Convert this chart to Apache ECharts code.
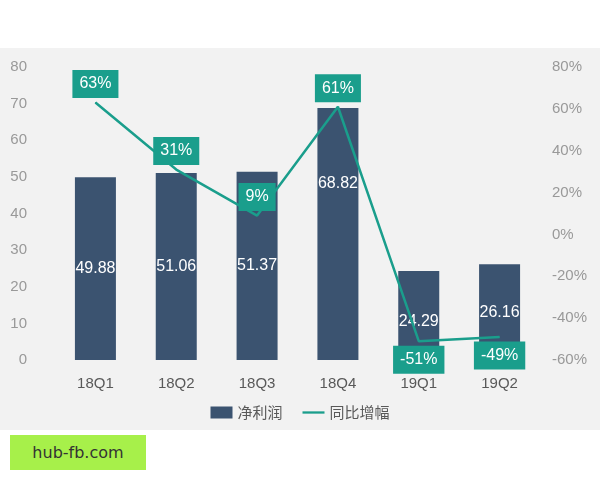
<!DOCTYPE html><html><head><meta charset="utf-8"><script src="https://cdn.jsdelivr.net/npm/echarts@6/dist/echarts.min.js"></script>
<style>body{margin:0;background:#fff}#bg{position:absolute;left:0;top:48px;width:600px;height:382px;background:#f2f2f2}#c{position:absolute;left:0;top:0;width:600px;height:480px}#w{position:absolute;left:10px;top:435px;width:136px;height:35px;background:#a7f04a;color:#333;font:16px 'DejaVu Sans',sans-serif;line-height:35px;text-align:center}</style></head><body>
<div id="bg"></div><div id="c"></div><div id="w">hub-fb.com</div>
<script>
const categories=['18Q1','18Q2','18Q3','18Q4','19Q1','19Q2'];
const profit=[49.88,51.06,51.37,68.82,24.29,26.16];
const growth=[63,31,9,61,-51,-49];
const leftTicks=[0,80,10];
const rightTicks=[-60,80,20];
const barLabelOffsetY=[0,0,0,-50,6,0];
const growthLabelBelow=[false,false,false,false,true,true];
const chart=echarts.init(document.getElementById('c'));
chart.setOption({
 animation:false,
 grid:{left:55,right:60,top:67,bottom:120},
 legend:{bottom:55,itemGap:20,itemWidth:22,itemHeight:12,textStyle:{color:'#595959',fontSize:15,fontFamily:'Noto Sans CJK SC'},
  data:[{name:'净利润',icon:'rect'},{name:'同比增幅',icon:'path://M0,5h24v2.5h-24z'}]},
 xAxis:{type:'category',data:categories,axisLine:{show:false},axisTick:{show:false},axisLabel:{color:'#595959',fontSize:15,margin:16,fontFamily:'Liberation Sans'}},
 yAxis:[{type:'value',min:leftTicks[0],max:leftTicks[1],interval:leftTicks[2],splitLine:{show:false},axisLabel:{color:'#999',fontSize:15,margin:28,fontFamily:'Liberation Sans'}},
 {type:'value',min:rightTicks[0],max:rightTicks[1],interval:rightTicks[2],splitLine:{show:false},axisLabel:{color:'#999',fontSize:15,formatter:'{value}%',margin:12,fontFamily:'Liberation Sans'}}],
 series:[{name:'净利润',type:'bar',barWidth:41,itemStyle:{color:'#3b5370'},
  data:profit.map((v,i)=>({value:v,label:{offset:[0,barLabelOffsetY[i]]}})),
  label:{show:true,position:'inside',color:'#fff',fontSize:16,fontFamily:'Liberation Sans'}},
 {name:'同比增幅',type:'line',yAxisIndex:1,symbol:'circle',symbolSize:1,showSymbol:true,lineStyle:{color:'#1a9e8c',width:2.5},itemStyle:{color:'#1a9e8c'},
  data:growth.map((v,i)=>({value:v,label:{position:growthLabelBelow[i]?'bottom':'top'}})),
  label:{show:true,formatter:'{c}%',color:'#fff',backgroundColor:'#1a9e8c',padding:[6,7],fontSize:16,distance:4,fontFamily:'Liberation Sans'}}]
});
</script></body></html>
